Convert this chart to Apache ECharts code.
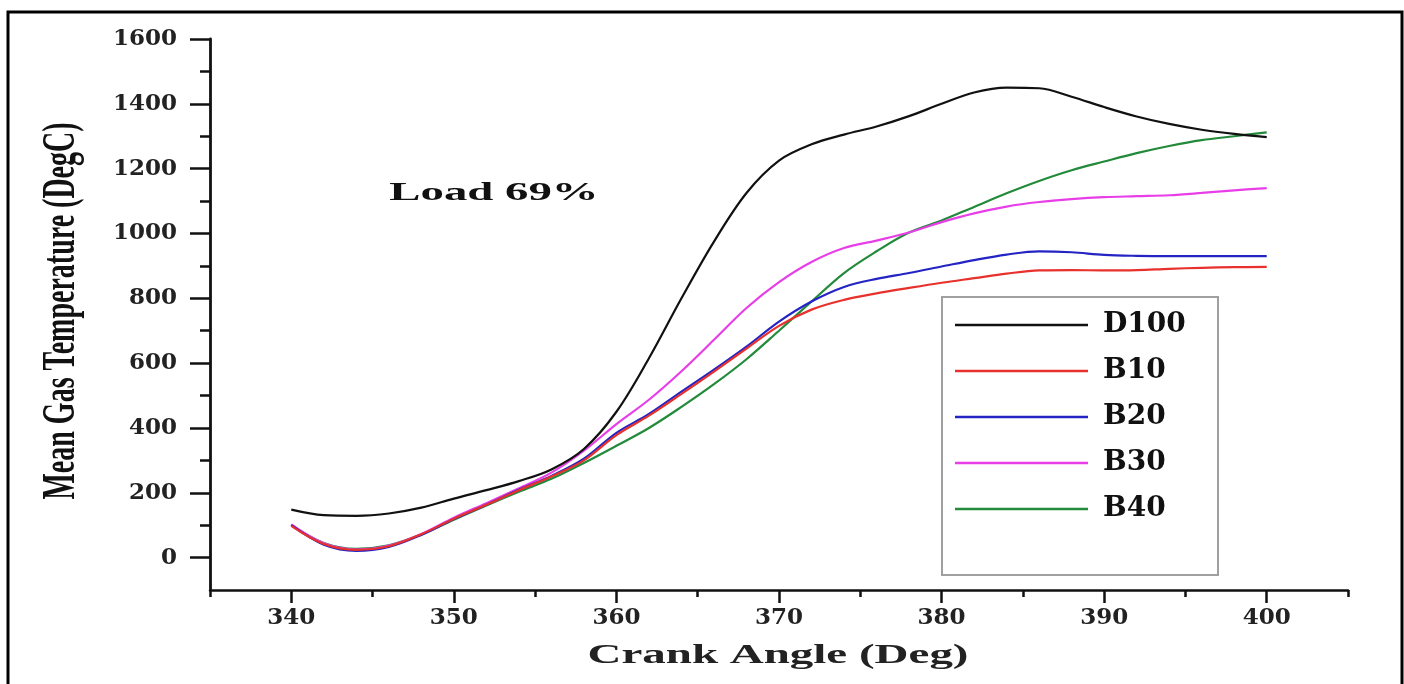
<!DOCTYPE html>
<html>
<head>
<meta charset="utf-8">
<script src="https://cdn.jsdelivr.net/npm/echarts@6/dist/echarts.min.js"></script>
<style>
html,body{margin:0;padding:0;background:#fff;}
#chart{width:1404px;height:684px;}
</style>
</head>
<body>
<div id="chart"></div>
<script>
// ---- data ----
const crankAngle = [340,342,344,346,348,350,352,354,356,358,360,362,364,366,368,370,372,374,376,378,380,382,384,386,388,390,392,394,396,398,400];
const D100 = [148,131,129,136,154,182,208,236,272,335,450,615,800,975,1125,1225,1275,1305,1330,1362,1400,1435,1450,1448,1422,1390,1361,1338,1320,1307,1297];
const B10  = [98,42,24,35,72,120,163,208,250,300,378,438,505,574,645,715,765,795,815,832,848,862,876,886,887,886,887,891,894,896,897];
const B20  = [100,40,21,33,70,119,163,209,252,305,385,443,512,580,651,728,790,835,860,878,898,918,935,945,942,934,931,930,930,930,930];
const B30  = [102,44,25,37,73,123,168,214,262,330,412,487,575,672,770,850,912,955,978,1003,1035,1062,1083,1097,1106,1112,1115,1118,1125,1133,1140];
const B40  = [100,45,27,38,71,117,161,203,243,292,345,400,465,535,612,700,790,878,945,1003,1040,1082,1124,1162,1195,1222,1248,1270,1288,1300,1312];
const seriesNames = ['D100','B10','B20','B30','B40'];
const seriesColors = ['#111111','#e8302c','#2424c4','#e83ee8','#228a3a'];
const xMajorTicks = [340,350,360,370,380,390,400];
const yMajorTicks = [0,200,400,600,800,1000,1200,1400,1600];
const yMinorTicks = [100,300,500,700,900,1100,1300,1500];
const xTitle = 'Crank Angle (Deg)';
const yTitle = 'Mean Gas Temperature (DegC)';
const note = 'Load 69%';

const allData = [D100,B10,B20,B30,B40];
const labelFont = '"DejaVu Serif", serif';
const axisColor = '#111';

const chart = echarts.init(document.getElementById('chart'), null, {renderer:'canvas'});
const series = seriesNames.map((n,i)=>({
  name:n, type:'line', xAxisIndex:0, yAxisIndex:0,
  data: crankAngle.map((x,j)=>[x, allData[i][j]]),
  smooth:0.35, showSymbol:false, symbol:'none',
  lineStyle:{color:seriesColors[i], width:2.2},
  itemStyle:{color:seriesColors[i]},
  z: 10 - i
}));

chart.setOption({
  animation:false,
  backgroundColor:'#fff',
  grid:{left:210, right:56, top:39, bottom:94, containLabel:false},
  xAxis:[{
    type:'value', min:335, max:405, interval:5, position:'bottom',
    axisLine:{show:true, onZero:false, lineStyle:{color:axisColor, width:2.5}},
    axisTick:{show:true, length:7, lineStyle:{color:axisColor, width:2.5}},
    axisLabel:{show:true, margin:17, color:'#222', fontFamily:labelFont, fontWeight:'bold', fontSize:23,
      formatter:v=> xMajorTicks.indexOf(v) >= 0 ? String(v) : ''},
    splitLine:{show:false}
  },{
    // longer major ticks: top-positioned helper axis shifted onto the bottom edge
    type:'value', min:335, max:405, interval:5, position:'top', offset:-551,
    axisLine:{show:false, onZero:false},
    axisTick:{show:true, inside:true, customValues:xMajorTicks, length:13, lineStyle:{color:axisColor, width:2.5}},
    axisLabel:{show:false},
    splitLine:{show:false}
  }],
  yAxis:[{
    type:'value', min:-100, max:1600, interval:100, position:'left',
    axisLine:{show:true, onZero:false, lineStyle:{color:axisColor, width:2.8}},
    axisTick:{show:true, customValues:yMajorTicks, length:20, lineStyle:{color:axisColor, width:2.5}},
    axisLabel:{show:true, customValues:yMajorTicks, margin:33, color:'#222', fontFamily:labelFont, fontWeight:'bold', fontSize:23, formatter:v=>String(v)},
    splitLine:{show:false}
  },{
    type:'value', min:-100, max:1600, interval:100, position:'left', offset:0,
    axisLine:{show:false, onZero:false},
    axisTick:{show:true, customValues:yMinorTicks, length:10, lineStyle:{color:axisColor, width:2.5}},
    axisLabel:{show:false},
    splitLine:{show:false}
  }],
  legend:{
    data:seriesNames, orient:'vertical', left:955, top:310, padding:0,
    icon:'rect', itemWidth:133, itemHeight:2.5, itemGap:16,
    textStyle:{fontFamily:labelFont, fontWeight:'bold', fontSize:28, color:'#111', lineHeight:30, padding:[0,0,0,10]},
    selectedMode:false
  },
  graphic:[
    {type:'rect', silent:true, shape:{x:8, y:12, width:1394, height:690},
     style:{fill:'none', stroke:'#000', lineWidth:3}},
    {type:'rect', silent:true, shape:{x:942, y:297, width:276, height:278},
     style:{fill:'none', stroke:'#a0a0a0', lineWidth:2}},
    {type:'text', silent:true, x:494, y:193, scaleX:1.8,
     style:{text:note, font:'bold 26px "Liberation Serif", serif', fill:'#111', align:'center', verticalAlign:'middle', textAlign:'center', textVerticalAlign:'middle'}},
    {type:'text', silent:true, x:778, y:656, scaleX:1.74,
     style:{text:xTitle, font:'bold 27px "Liberation Serif", serif', fill:'#222', align:'center', verticalAlign:'middle', textAlign:'center', textVerticalAlign:'middle'}},
    {type:'text', silent:true, x:62, y:311, rotation:Math.PI/2, scaleY:1.65,
     style:{text:yTitle, font:'bold 28px "Liberation Serif", serif', fill:'#111', align:'center', verticalAlign:'middle', textAlign:'center', textVerticalAlign:'middle'}}
  ],
  series:series
});
</script>
</body>
</html>
